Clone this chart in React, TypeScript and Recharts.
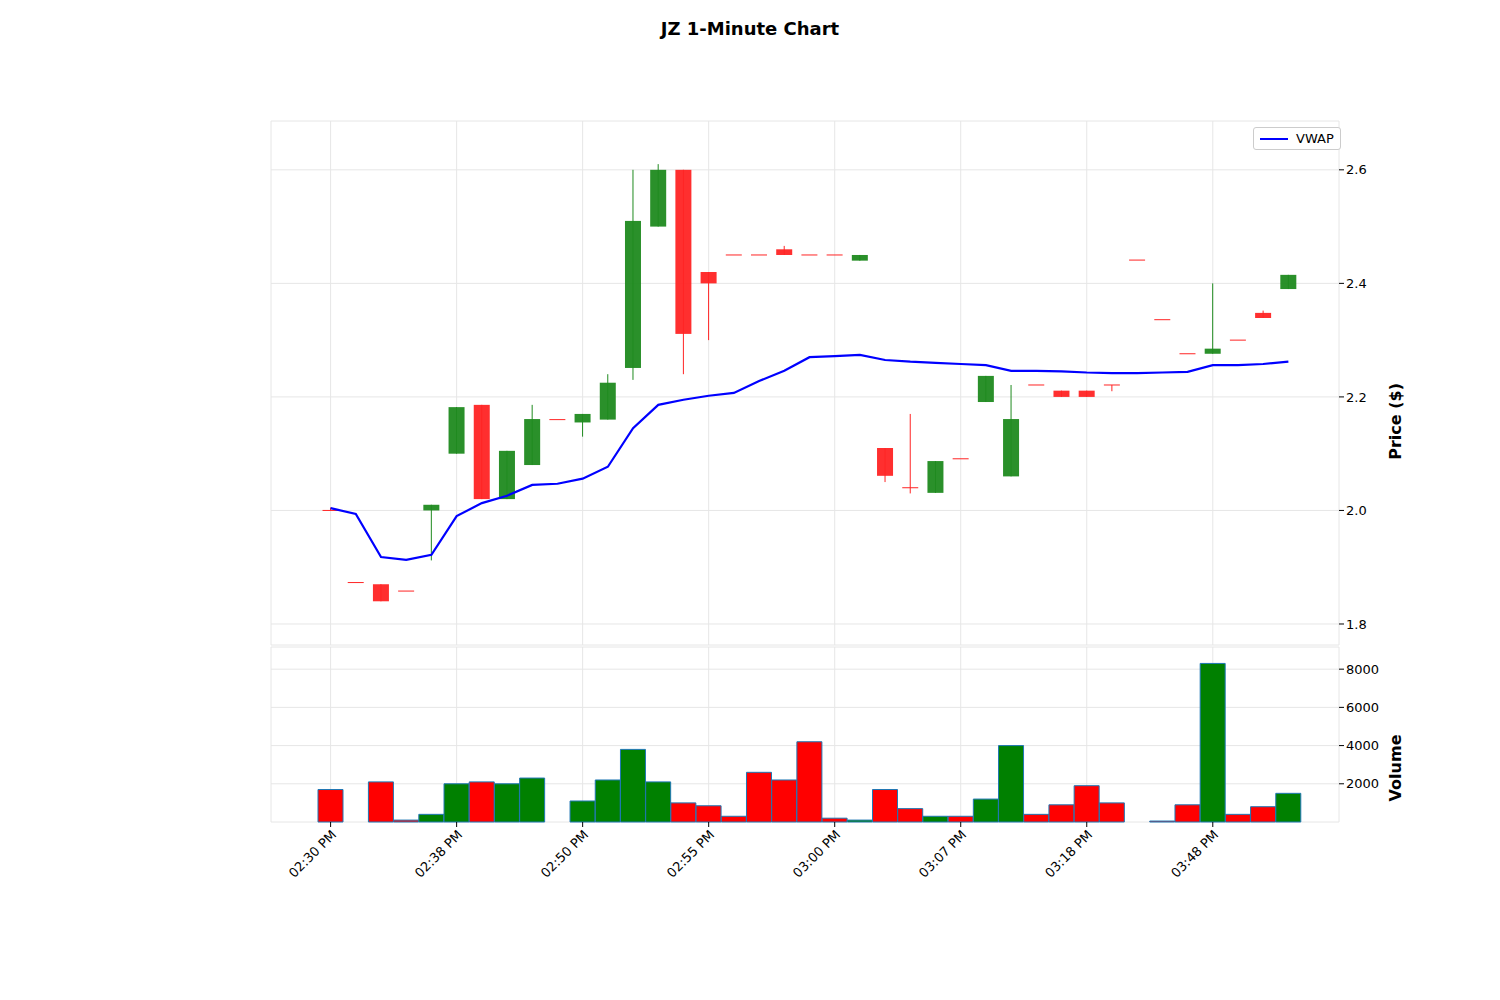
import React from 'react';
import {
    ComposedChart,
    Bar,
    Line,
    XAxis,
    YAxis,
    CartesianGrid,
    Cell
} from 'recharts';

// candle values
const opens = [2.0, 1.873, 1.870, 1.858, 2.000, 2.100, 2.186, 2.020, 2.080, 2.160, 2.155, 2.160, 2.251, 2.500, 2.600, 2.420, 2.450, 2.450, 2.460, 2.450, 2.450, 2.440, 2.110, 2.040, 2.031, 2.091, 2.191, 2.060, 2.221, 2.211, 2.211, 2.221, 2.441, 2.336, 2.276, 2.276, 2.300, 2.348, 2.390];
const closes = [2.0, 1.873, 1.840, 1.858, 2.010, 2.182, 2.020, 2.105, 2.161, 2.160, 2.170, 2.225, 2.510, 2.600, 2.311, 2.400, 2.450, 2.450, 2.450, 2.450, 2.450, 2.450, 2.061, 2.040, 2.087, 2.091, 2.237, 2.161, 2.221, 2.200, 2.200, 2.221, 2.441, 2.336, 2.276, 2.285, 2.300, 2.339, 2.415];
const highs = [2.005, 1.873, 1.870, 1.858, 2.010, 2.182, 2.186, 2.105, 2.186, 2.160, 2.170, 2.240, 2.600, 2.610, 2.600, 2.420, 2.450, 2.450, 2.466, 2.450, 2.450, 2.450, 2.110, 2.170, 2.087, 2.091, 2.237, 2.221, 2.221, 2.211, 2.211, 2.221, 2.441, 2.336, 2.276, 2.400, 2.300, 2.352, 2.415];
const lows = [2.0, 1.873, 1.840, 1.858, 1.912, 2.100, 2.020, 2.020, 2.080, 2.160, 2.130, 2.160, 2.230, 2.500, 2.240, 2.300, 2.450, 2.450, 2.450, 2.450, 2.450, 2.440, 2.050, 2.030, 2.031, 2.091, 2.191, 2.060, 2.221, 2.200, 2.200, 2.210, 2.441, 2.336, 2.276, 2.276, 2.300, 2.339, 2.390];
const volumes = [1700, 0, 2100, 100, 400, 2000, 2100, 2000, 2300, 0, 1100, 2200, 3800, 2100, 1000, 850, 300, 2600, 2200, 4200, 200, 100, 1700, 700, 300, 300, 1200, 4000, 400, 900, 1900, 1000, 0, 50, 900, 8300, 400, 800, 1500];
const vwap = [2.004, 1.994, 1.918, 1.913, 1.922, 1.990, 2.013, 2.026, 2.045, 2.047, 2.056, 2.077, 2.145, 2.186, 2.195, 2.202, 2.207, 2.228, 2.246, 2.270, 2.272, 2.274, 2.265, 2.262, 2.260, 2.258, 2.256, 2.246, 2.246, 2.245, 2.243, 2.242, 2.242, 2.243, 2.244, 2.256, 2.256, 2.258, 2.262];
const tickLabels = ['02:30 PM', '02:38 PM', '02:50 PM', '02:55 PM', '03:00 PM', '03:07 PM', '03:18 PM', '03:48 PM'];
const priceTicks = [1.8, 2.0, 2.2, 2.4, 2.6];
const volumeTicks = [2000, 4000, 6000, 8000];

const GREEN = '#1f8a1f';
const RED = '#ff2424';

const data = opens.map((o, i) => ({
    idx: i,
    range: [lows[i], highs[i]],
    vwap: vwap[i],
    vol: volumes[i],
    up: closes[i] > o,
}));

const fmtTick = (v: number) => (v % 5 === 0 ? tickLabels[v / 5] ?? '' : '');

const Candle = (props: any) => {
    const { x, y, width, height, payload } = props;
    const i = payload.idx;
    const hi = highs[i];
    const lo = lows[i];
    const span = hi - lo;
    const pxPerUnit = span > 0 ? height / span : 0;
    const yOf = (v: number) => y + (hi - v) * pxPerUnit;
    const top = yOf(Math.max(opens[i], closes[i]));
    const bot = yOf(Math.min(opens[i], closes[i]));
    const cx = x + width / 2;
    const bw = 16;
    const color = payload.up ? GREEN : RED;
    const bodyH = bot - top;
    return (
        <g>
            <line x1={cx} x2={cx} y1={y} y2={y + height} stroke={color} strokeWidth={1} />
            {bodyH >= 1 ? (
                <rect x={cx - bw / 2} y={top} width={bw} height={bodyH} fill={color} fillOpacity={0.95} />
            ) : (
                <line x1={cx - bw / 2} x2={cx + bw / 2} y1={top} y2={top} stroke={color} strokeWidth={1} />
            )}
        </g>
    );
};

const tickStyle = { fontSize: 13, fill: '#000', fontFamily: 'DejaVu Sans' };

const App: React.FC = () => {
    return (
        <div style={{ position: 'absolute', left: 0, top: 0, width: 1500, height: 1000, background: '#fff', fontFamily: 'DejaVu Sans' }}>
            <div style={{ position: 'absolute', top: 18, width: 1500, textAlign: 'center', fontWeight: 'bold', fontSize: 18 }}>
                JZ 1-Minute Chart
            </div>
            <div style={{ position: 'absolute', left: 0, top: 0 }}>
                <ComposedChart width={1500} height={650} data={data}
                    margin={{ top: 121, right: 101, left: 271, bottom: 5 }}>
                    <CartesianGrid stroke="#e6e6e6" horizontalPoints={undefined} />
                    <XAxis dataKey="idx" hide interval={4} padding={{ left: 47, right: 38 }} />
                    <YAxis orientation="right" width={60} domain={[1.763, 2.686]} ticks={priceTicks}
                        tickFormatter={(v: number) => v.toFixed(1)} axisLine={false} tick={tickStyle}
                        tickLine={{ stroke: '#000' }} tickSize={5}
                        label={{ value: 'Price ($)', angle: -90, position: 'insideRight', offset: 4, style: { fontWeight: 'bold', fontSize: 16, fill: '#000' } }} />
                    <Bar dataKey="range" shape={<Candle />} isAnimationActive={false} />
                    <Line dataKey="vwap" stroke="#0000ff" strokeWidth={2.2} dot={false} type="linear" isAnimationActive={false} />
                </ComposedChart>
            </div>
            <div style={{
                position: 'absolute', left: 1253, top: 127, border: '1px solid #ccc', borderRadius: 3,
                background: '#fff', padding: '3px 6px', fontSize: 13, display: 'flex', alignItems: 'center', gap: 8
            }}>
                <span style={{ display: 'inline-block', width: 28, height: 2, background: '#0000ff' }} />
                VWAP
            </div>
            <div style={{ position: 'absolute', left: 0, top: 0 }}>
                <ComposedChart width={1500} height={1000} data={data} barCategoryGap={0}
                    margin={{ top: 647, right: 101, left: 271, bottom: 108 }}>
                    <CartesianGrid stroke="#e6e6e6" />
                    <XAxis dataKey="idx" interval={4} padding={{ left: 47, right: 38 }} height={70}
                        tickFormatter={fmtTick} angle={-45} textAnchor="end" axisLine={false}
                        tick={tickStyle} tickLine={{ stroke: '#000' }} tickSize={5} />
                    <YAxis orientation="right" width={60} domain={[0, 9160]} ticks={volumeTicks}
                        axisLine={false} tick={tickStyle} tickLine={{ stroke: '#000' }} tickSize={5}
                        label={{ value: 'Volume', angle: -90, position: 'insideRight', offset: 4, style: { fontWeight: 'bold', fontSize: 16, fill: '#000' } }} />
                    <Bar dataKey="vol" stroke="#1f77b4" strokeWidth={1} isAnimationActive={false}>
                        {data.map((d) => (
                            <Cell key={d.idx} fill={d.up ? '#008000' : '#ff0000'} />
                        ))}
                    </Bar>
                </ComposedChart>
            </div>
        </div>
    );
};

export default App;
